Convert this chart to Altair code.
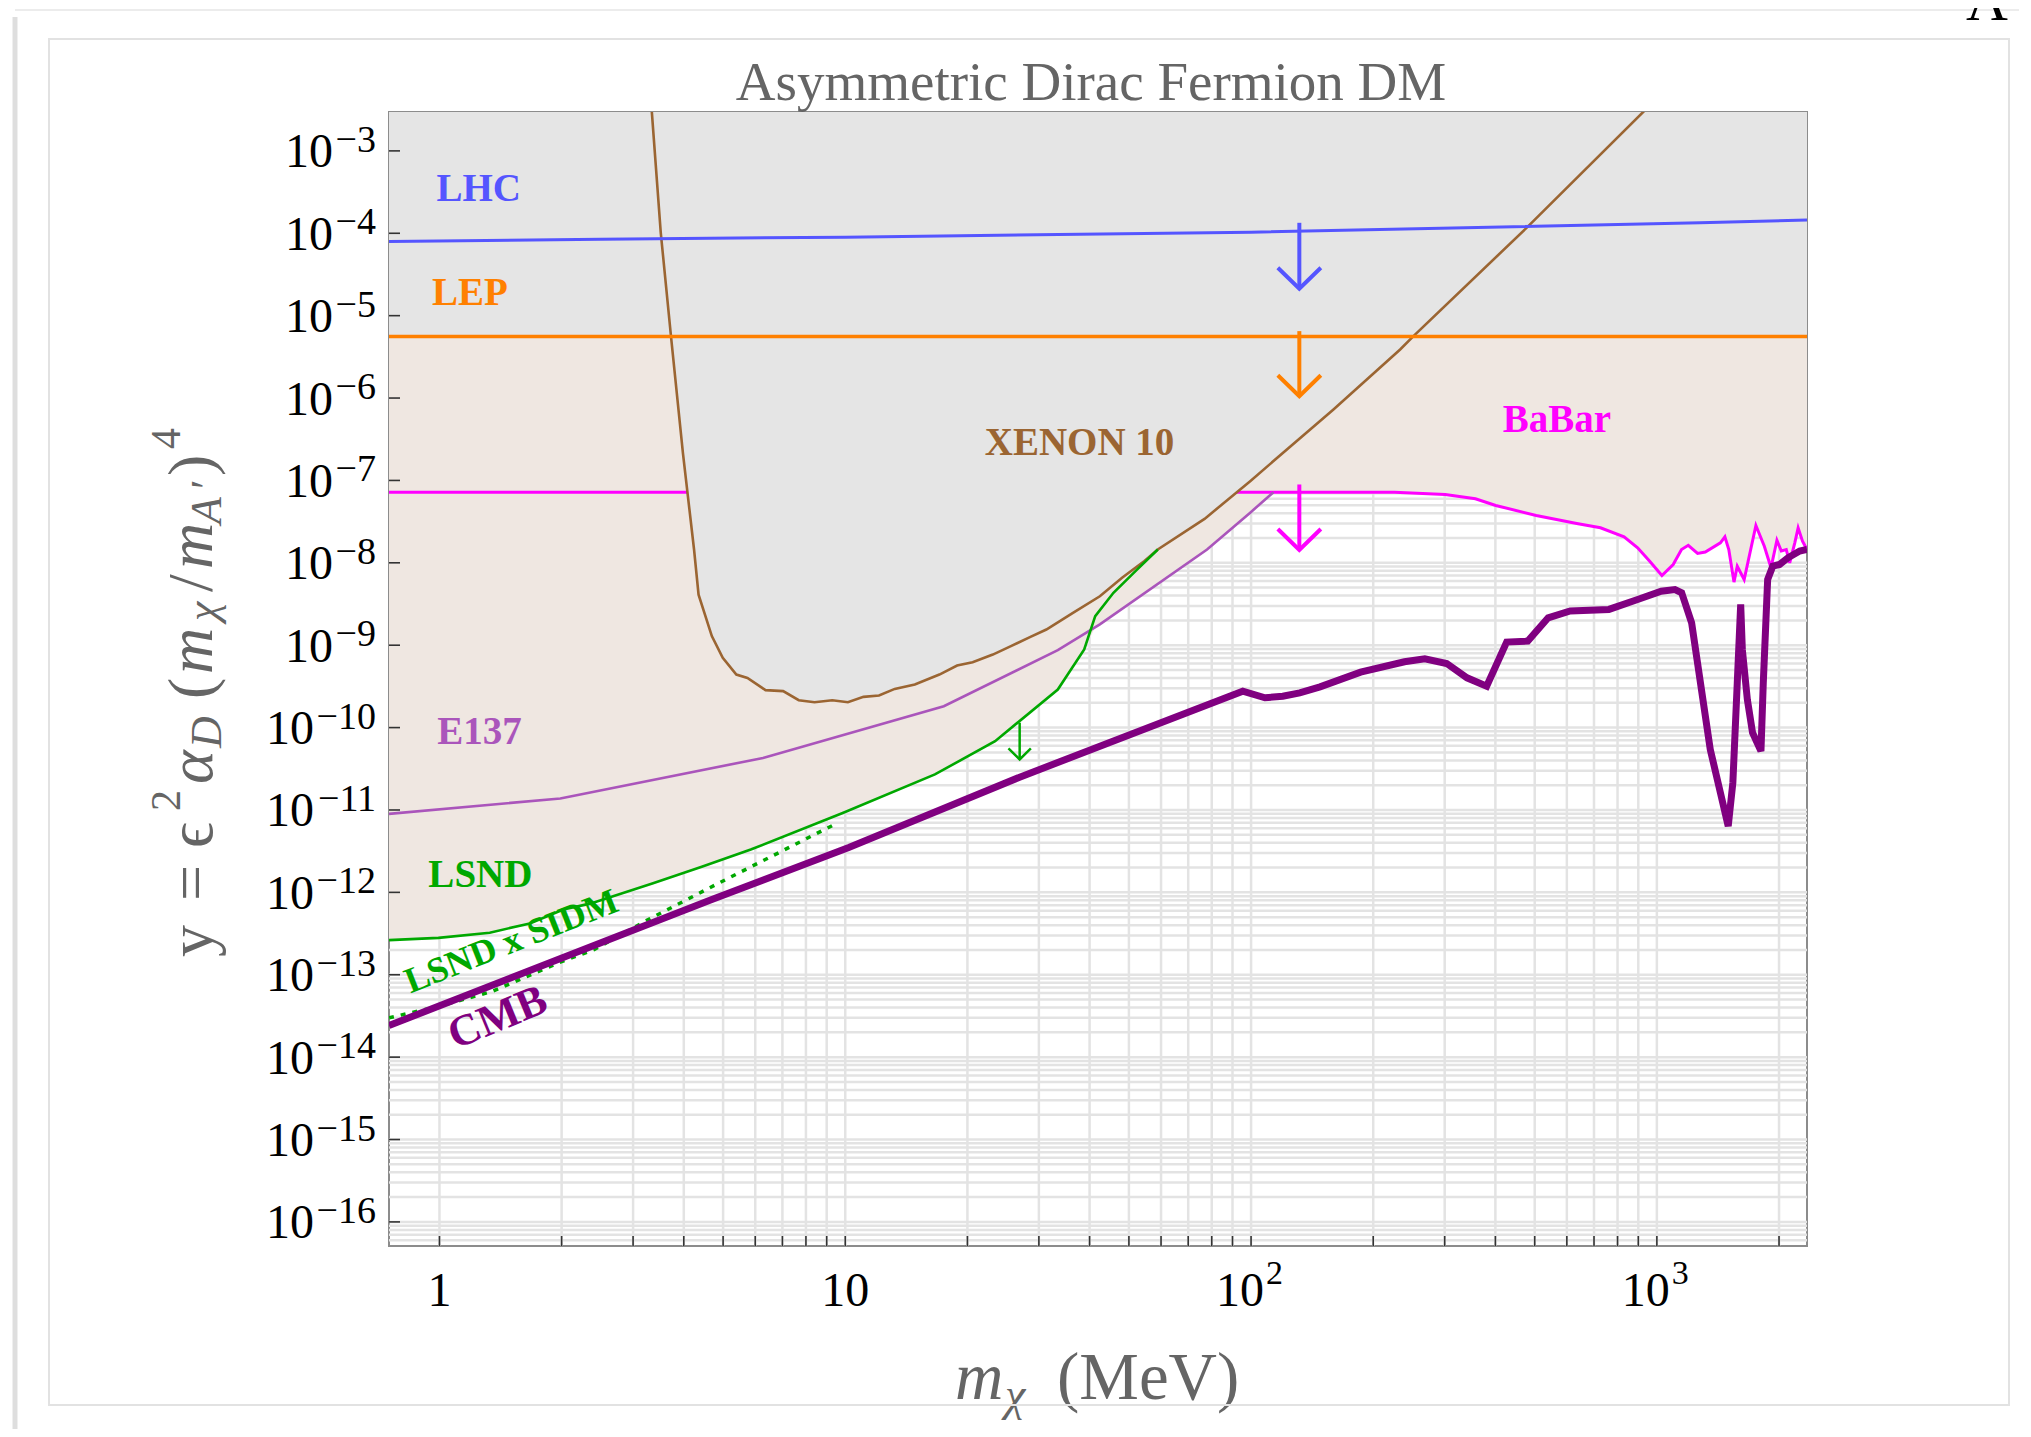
import altair as alt
import numpy as np
import pandas as pd

W, H = 1418, 1134
FONT = "Liberation Serif"
GRAY_TXT = "#656565"
GRID = "#e3e3e3"
BEIGE = "#efe7e1"
GRAYFILL = "#e5e5e5"

# ---------------- data ----------------
# x = m_chi (MeV), y = eps^2 alpha_D (m_chi/m_A')^4
X_MIN, X_MAX = 0.751, 2344
Y_MIN, Y_MAX = 5.1e-17, 2.965e-3
FILL_TOP = 1e-2

lhc_x = [0.751, 2.5, 10, 100, 1277, 2344]
lhc_y = [7.95e-5, 8.47e-5, 8.97e-5, 1.03e-4, 1.34e-4, 1.45e-4]

lep_y = 5.6e-6

babar_x = [0.751, 225.6, 300.8, 357.2, 400.8, 504.3, 634.7, 726.1, 830.2, 896.6, 959,
           1029, 1097, 1150, 1195, 1260, 1316, 1434, 1471, 1504, 1549, 1578, 1641, 1754,
           1840, 1911, 1976, 2026, 2084, 2125, 2187, 2229, 2285, 2344]
babar_y = [7.2e-8, 7.2e-8, 6.74e-8, 5.98e-8, 4.97e-8, 3.75e-8, 3.0e-8, 2.66e-8, 2.07e-8,
           1.52e-8, 1.05e-8, 7.02e-9, 9.55e-9, 1.45e-8, 1.63e-8, 1.3e-8, 1.35e-8, 1.75e-8,
           2.07e-8, 1.45e-8, 5.83e-9, 9.1e-9, 6.27e-9, 2.84e-8, 1.59e-8, 8.71e-9, 1.88e-8,
           1.39e-8, 1.45e-8, 1.0e-8, 1.75e-8, 2.66e-8, 1.83e-8, 1.45e-8]

xenon_x = [3.30, 3.337, 3.51, 3.72, 3.98, 4.24, 4.35, 4.69, 4.99, 5.39, 5.74, 6.36, 7.03,
           7.68, 8.40, 9.29, 10.15, 11.09, 12.11, 13.24, 14.84, 17.06, 18.86, 20.6, 23.1,
           25.6, 28.6, 31.3, 36.4, 42.4, 48.1, 54.6, 58.9, 76.8, 99.5, 159.6, 233, 251.3,
           478, 935, 1100]
xenon_y = [5.9e-3, 2.96e-3, 1.02e-4, 5.6e-6, 2.16e-7, 1.45e-8, 4.1e-9, 1.29e-9, 7.05e-10,
           4.4e-10, 4.0e-10, 2.85e-10, 2.77e-10, 2.15e-10, 2.03e-10, 2.15e-10, 2.03e-10,
           2.36e-10, 2.45e-10, 2.95e-10, 3.34e-10, 4.4e-10, 5.66e-10, 6.22e-10, 7.7e-10,
           9.75e-10, 1.26e-9, 1.55e-9, 2.47e-9, 3.93e-9, 6.58e-9, 1.05e-8, 1.45e-8, 3.41e-8,
           9.8e-8, 7.28e-7, 3.89e-6, 5.64e-6, 1.17e-4, 3.12e-3, 6.7e-3]

e137_x = [0.751, 1.985, 6.27, 17.49, 33.4, 42.4, 77.9, 99.5, 113.6]
e137_y = [8.97e-12, 1.38e-11, 4.28e-11, 1.82e-10, 8.7e-10, 1.79e-9, 1.45e-8, 4.06e-8, 7.2e-8]

lsnd_x = [0.751, 0.994, 1.33, 1.67, 2.02, 2.35, 3.36, 4.43, 5.85, 9.89, 16.63, 23.4, 33.4,
          38.8, 41.3, 45.8, 51.9, 58.9]
lsnd_y = [2.63e-13, 2.8e-13, 3.24e-13, 4.2e-13, 6.2e-13, 7.3e-13, 1.29e-12, 2.04e-12,
          3.31e-12, 9.25e-12, 2.7e-11, 6.84e-11, 2.9e-10, 8.87e-10, 2.25e-9, 4.33e-9,
          7.94e-9, 1.45e-8]

sidm_x = [0.751, 1.0, 1.35, 1.97, 2.41, 3.27, 4.90, 9.29]
sidm_y = [3.0e-14, 4.15e-14, 6.3e-14, 1.4e-13, 2.03e-13, 4.68e-13, 1.31e-12, 6.47e-12]

cmb_x = [0.751, 4.69, 10.2, 26.9, 95.4, 108.2, 119.7, 131.8, 147.9, 186.2, 238.8, 268,
         303.4, 340.5, 380.7, 426.4, 480.8, 539.7, 611.6, 761.7, 896.6, 1025, 1108, 1151,
         1218, 1302, 1354, 1434, 1499, 1539, 1578, 1609, 1624, 1671, 1721, 1805, 1829,
         1875, 1930, 2006, 2104, 2249, 2344]
cmb_y = [2.42e-14, 8.18e-13, 3.5e-12, 2.5e-11, 2.77e-10, 2.3e-10, 2.4e-10, 2.64e-10,
         3.12e-10, 4.71e-10, 6.3e-10, 6.84e-10, 6.0e-10, 4.02e-10, 3.18e-10, 1.09e-9,
         1.12e-9, 2.15e-9, 2.6e-9, 2.72e-9, 3.59e-9, 4.53e-9, 4.74e-9, 4.33e-9, 1.87e-9,
         2.0e-10, 5.42e-11, 1.62e-11, 6.37e-12, 2.14e-11, 3.49e-10, 3.12e-9, 8.87e-10,
         2.19e-10, 8.65e-11, 5.18e-11, 3.49e-10, 6.27e-9, 9.1e-9, 9.55e-9, 1.15e-8,
         1.39e-8, 1.45e-8]

# arrows: x, start y, tip y
arrow_x = [131.5, 131.5, 131.5, 26.9]
arrow_y0 = [1.34e-4, 6.49e-6, 8.93e-8, 1.146e-10]
arrow_y1 = [2.12e-5, 1.05e-6, 1.43e-8, 4.11e-11]
arrow_col = ["#5555ff", "#ff8000", "#ff00ff", "#00a800"]

# region labels
label_text = ["LHC", "LEP", "XENON 10", "BaBar", "E137", "LSND"]
label_x = [0.983, 0.959, 22.07, 416.8, 0.988, 0.939]
label_y = [2.44e-4, 1.35e-5, 2.01e-7, 3.86e-7, 6.25e-11, 1.15e-12]
label_col = ["#5555ff", "#ff8000", "#9b6532", "#ff00ff", "#aa55bb", "#00a800"]

rot_text = ["LSND x SIDM", "CMB"]
rot_x = [0.848, 1.094]
rot_y = [5.94e-14, 1.24e-14]
rot_col = ["#00a800", "#800080"]

y_tick_exp = [-3, -4, -5, -6, -7, -8, -9, -10, -11, -12, -13, -14, -15, -16]
x_tick_plain = ["1", "10"]
x_tick_plain_v = [1, 10]
x_tick_pow = [2, 3]

# ---------------- helpers ----------------
xs = alt.Scale(type="log", domain=[X_MIN, X_MAX], nice=False)
ys = alt.Scale(type="log", domain=[Y_MIN, Y_MAX], nice=False)


def XE(f):
    return alt.X(f"{f}:Q", scale=xs, axis=None)


def YE(f):
    return alt.Y(f"{f}:Q", scale=ys, axis=None)


one = pd.DataFrame({"k": [0]})
layers = []

# grid
gx = [m * 10.0 ** k for k in range(0, 4) for m in range(1, 10) if X_MIN <= m * 10.0 ** k <= X_MAX]
gy = [m * 10.0 ** k for k in range(-17, -2) for m in range(1, 10) if Y_MIN <= m * 10.0 ** k <= Y_MAX]
layers.append(alt.Chart(pd.DataFrame({"v": gx})).mark_rule(color=GRID, strokeWidth=2.5)
              .encode(x=XE("v"), y=alt.value(0), y2=alt.value(H)))
layers.append(alt.Chart(pd.DataFrame({"v": gy})).mark_rule(color=GRID, strokeWidth=2.5)
              .encode(y=YE("v"), x=alt.value(0), x2=alt.value(W)))


# beige excluded region: lower envelope of LSND, E137, BaBar
def loginterp(xq, xv, yv):
    return np.interp(np.log10(xq), np.log10(xv), np.log10(yv), left=np.nan, right=np.nan)


env_x = np.array(sorted(set(lsnd_x + e137_x + babar_x)))
env_ly = np.nanmin(np.vstack([loginterp(env_x, lsnd_x, lsnd_y),
                              loginterp(env_x, e137_x, e137_y),
                              loginterp(env_x, babar_x, babar_y)]), axis=0)
env = pd.DataFrame({"x": env_x, "y": 10.0 ** env_ly, "top": FILL_TOP})
layers.append(alt.Chart(env).mark_area(color=BEIGE, opacity=1, clip=True)
              .encode(x=XE("x"), y=YE("y"), y2=alt.Y2("top")))


def line(xv, yv, color, width, dash=None):
    df = pd.DataFrame({"x": xv, "y": yv, "o": list(range(len(xv)))})
    kw = dict(color=color, strokeWidth=width, clip=True)
    if dash:
        kw["strokeDash"] = dash
    return alt.Chart(df).mark_line(**kw).encode(x=XE("x"), y=YE("y"), order="o:Q")


# BaBar line (partly covered by the XENON region)
layers.append(line(babar_x, babar_y, "#ff00ff", 3))

# gray region: above LEP, and inside XENON10
layers.append(alt.Chart(pd.DataFrame({"x1": [X_MIN], "x2": [X_MAX], "y1": [lep_y], "y2": [FILL_TOP]}))
              .mark_rect(color=GRAYFILL, opacity=1, clip=True)
              .encode(x=XE("x1"), x2="x2", y=YE("y1"), y2="y2"))
xen = pd.DataFrame({"x": xenon_x, "y": xenon_y, "top": FILL_TOP})
layers.append(alt.Chart(xen).mark_area(color=GRAYFILL, opacity=1, clip=True)
              .encode(x=XE("x"), y=YE("y"), y2=alt.Y2("top")))

layers.append(line(xenon_x, xenon_y, "#9b6532", 2.6))
layers.append(line(lhc_x, lhc_y, "#5555ff", 3))
layers.append(line([X_MIN, X_MAX], [lep_y, lep_y], "#ff8000", 3.5))
layers.append(line(e137_x, e137_y, "#aa55bb", 2.6))
layers.append(line(lsnd_x, lsnd_y, "#00a800", 2.6))
layers.append(line(sidm_x, sidm_y, "#00a800", 3.5, dash=[5, 7]))
layers.append(line(cmb_x, cmb_y, "#800080", 7))

# arrows
for i in range(len(arrow_x)):
    big = i < 3
    df = pd.DataFrame({"x": [arrow_x[i]], "y0": [arrow_y0[i]], "y1": [arrow_y1[i]]})
    sw = 4 if big else 2.5
    layers.append(alt.Chart(df).mark_rule(color=arrow_col[i], strokeWidth=sw)
                  .encode(x=XE("x"), y=YE("y0"), y2="y1"))
    layers.append(alt.Chart(df).mark_point(shape="M-1,-0.98L0,0L1,-0.98", size=1849 if big else 502,
                                           filled=False, color=arrow_col[i], strokeWidth=sw,
                                           opacity=1, strokeJoin="miter", strokeCap="butt")
                  .encode(x=XE("x"), y=YE("y1")))

# region labels
for t, lx, ly, c in zip(label_text, label_x, label_y, label_col):
    layers.append(alt.Chart(pd.DataFrame({"x": [lx], "y": [ly]}))
                  .mark_text(text=t, font=FONT, fontSize=39, fontWeight="bold", color=c,
                             align="left", baseline="alphabetic")
                  .encode(x=XE("x"), y=YE("y")))
for t, lx, ly, c, fs, ang in zip(rot_text, rot_x, rot_y, rot_col, [36, 44], [338.4, 337.7]):
    layers.append(alt.Chart(pd.DataFrame({"x": [lx], "y": [ly]}))
                  .mark_text(text=t, font=FONT, fontSize=fs, fontWeight="bold", color=c,
                             align="left", baseline="alphabetic", angle=ang)
                  .encode(x=XE("x"), y=YE("y")))

# ticks
ymaj = pd.DataFrame({"v": [10.0 ** e for e in y_tick_exp],
                     "e": ["\u2212" + str(-e) for e in y_tick_exp],
                     "nd": [len(str(-e)) for e in y_tick_exp]})
layers.append(alt.Chart(ymaj).mark_rule(color="#333333", strokeWidth=1.6)
              .encode(y=YE("v"), x=alt.value(0), x2=alt.value(11)))
layers.append(alt.Chart(pd.DataFrame({"v": gx})).mark_rule(color="#333333", strokeWidth=1.6)
              .encode(x=XE("v"), y=alt.value(H - 10), y2=alt.value(H)))

# y tick labels: "10" + superscript exponent
for nd, xb in [(1, -56), (2, -75)]:
    layers.append(alt.Chart(ymaj[ymaj.nd == nd])
                  .mark_text(text="10", font=FONT, fontSize=48, color="black", align="right",
                             baseline="alphabetic", dy=16.5)
                  .encode(y=YE("v"), x=alt.value(xb)))
layers.append(alt.Chart(ymaj).mark_text(font=FONT, fontSize=38, color="black", align="right",
                                        baseline="alphabetic", dy=1)
              .encode(y=YE("v"), x=alt.value(-13), text="e:N"))

# x tick labels
layers.append(alt.Chart(pd.DataFrame({"v": x_tick_plain_v, "t": x_tick_plain}))
              .mark_text(font=FONT, fontSize=48, color="black", align="center", baseline="alphabetic")
              .encode(x=XE("v"), y=alt.value(H + 60), text="t:N"))
xp = pd.DataFrame({"v": [10.0 ** p for p in x_tick_pow], "e": [str(p) for p in x_tick_pow]})
layers.append(alt.Chart(xp).mark_text(text="10", font=FONT, fontSize=48, color="black", align="right",
                                      baseline="alphabetic", dx=13)
              .encode(x=XE("v"), y=alt.value(H + 60)))
layers.append(alt.Chart(xp).mark_text(font=FONT, fontSize=34, color="black", align="left",
                                      baseline="alphabetic", dx=15)
              .encode(x=XE("v"), y=alt.value(H + 38), text="e:N"))


def txt(t, x, y, fs, style="normal", angle=0, color=GRAY_TXT, align="left", weight="normal"):
    kw = dict(text=t, font=FONT, fontSize=fs, fontStyle=style, color=color, align=align,
              baseline="alphabetic", fontWeight=weight)
    if angle:
        kw["angle"] = angle
    return alt.Chart(one).mark_text(**kw).encode(x=alt.value(x), y=alt.value(y))


# title
layers.append(txt("Asymmetric Dirac Fermion DM", 702, -12, 55, align="center"))

# x axis title: m_chi (MeV)
layers.append(txt("m", 566, 1287, 67, "italic"))
layers.append(txt("\u03c7", 616, 1298, 46, "italic"))
layers.append(txt("(MeV)", 668, 1287, 67))

# y axis title: y = eps^2 alpha_D (m_chi / m_A')^4  (rotated, reading upward)
MB, SUP, SUB = -177, -209, -168
ypieces = [
    ("y", 845, MB, 64, "normal"),
    ("=", 789, MB, 64, "normal"),
    ("\u03f5", 736, MB, 64, "normal"),
    ("2", 699, SUP, 42, "normal"),
    ("\u03b1", 672, MB, 64, "italic"),
    ("D", 636, SUB, 44, "italic"),
    ("(", 587, MB, 64, "normal"),
    ("m", 562, MB, 64, "italic"),
    ("\u03c7", 509, SUB - 4, 44, "italic"),
    ("/", 480, MB, 64, "normal"),
    ("m", 457, MB, 64, "italic"),
    ("A", 412, SUB, 44, "italic"),
    ("\u2032", 377, SUB, 44, "normal"),
    (")", 364, MB, 64, "normal"),
    ("4", 337, SUP, 42, "normal"),
]
for t, py, px, fs, st in ypieces:
    layers.append(txt(t, px, py, fs, st, angle=270))

# outer frame, shadow and stray panel letter
layers.append(alt.Chart(one).mark_rect(fill="white", fillOpacity=0, stroke="#e2e2e2", strokeWidth=2)
              .encode(x=alt.value(-340), x2=alt.value(1620), y=alt.value(-73), y2=alt.value(1293)))
layers.append(alt.Chart(one).mark_rule(color="#d6d6d6", strokeWidth=5, opacity=0.8)
              .encode(x=alt.value(-374), y=alt.value(-95), y2=alt.value(1330)))
layers.append(alt.Chart(one).mark_rule(color="#ececec", strokeWidth=2)
              .encode(y=alt.value(-102), x=alt.value(-374), x2=alt.value(1630)))
layers.append(txt("A", 1577, -92, 58, color="black"))

chart = (alt.layer(*layers)
         .properties(width=W, height=H,
                     padding={"left": 381, "top": 104, "right": 216, "bottom": 183},
                     autosize=alt.AutoSizeParams(type="none"),
                     background="white")
         .configure_view(stroke="#8c8c8c", strokeWidth=2))

chart.save("out.html", embed_options={"renderer": "svg", "actions": False})
